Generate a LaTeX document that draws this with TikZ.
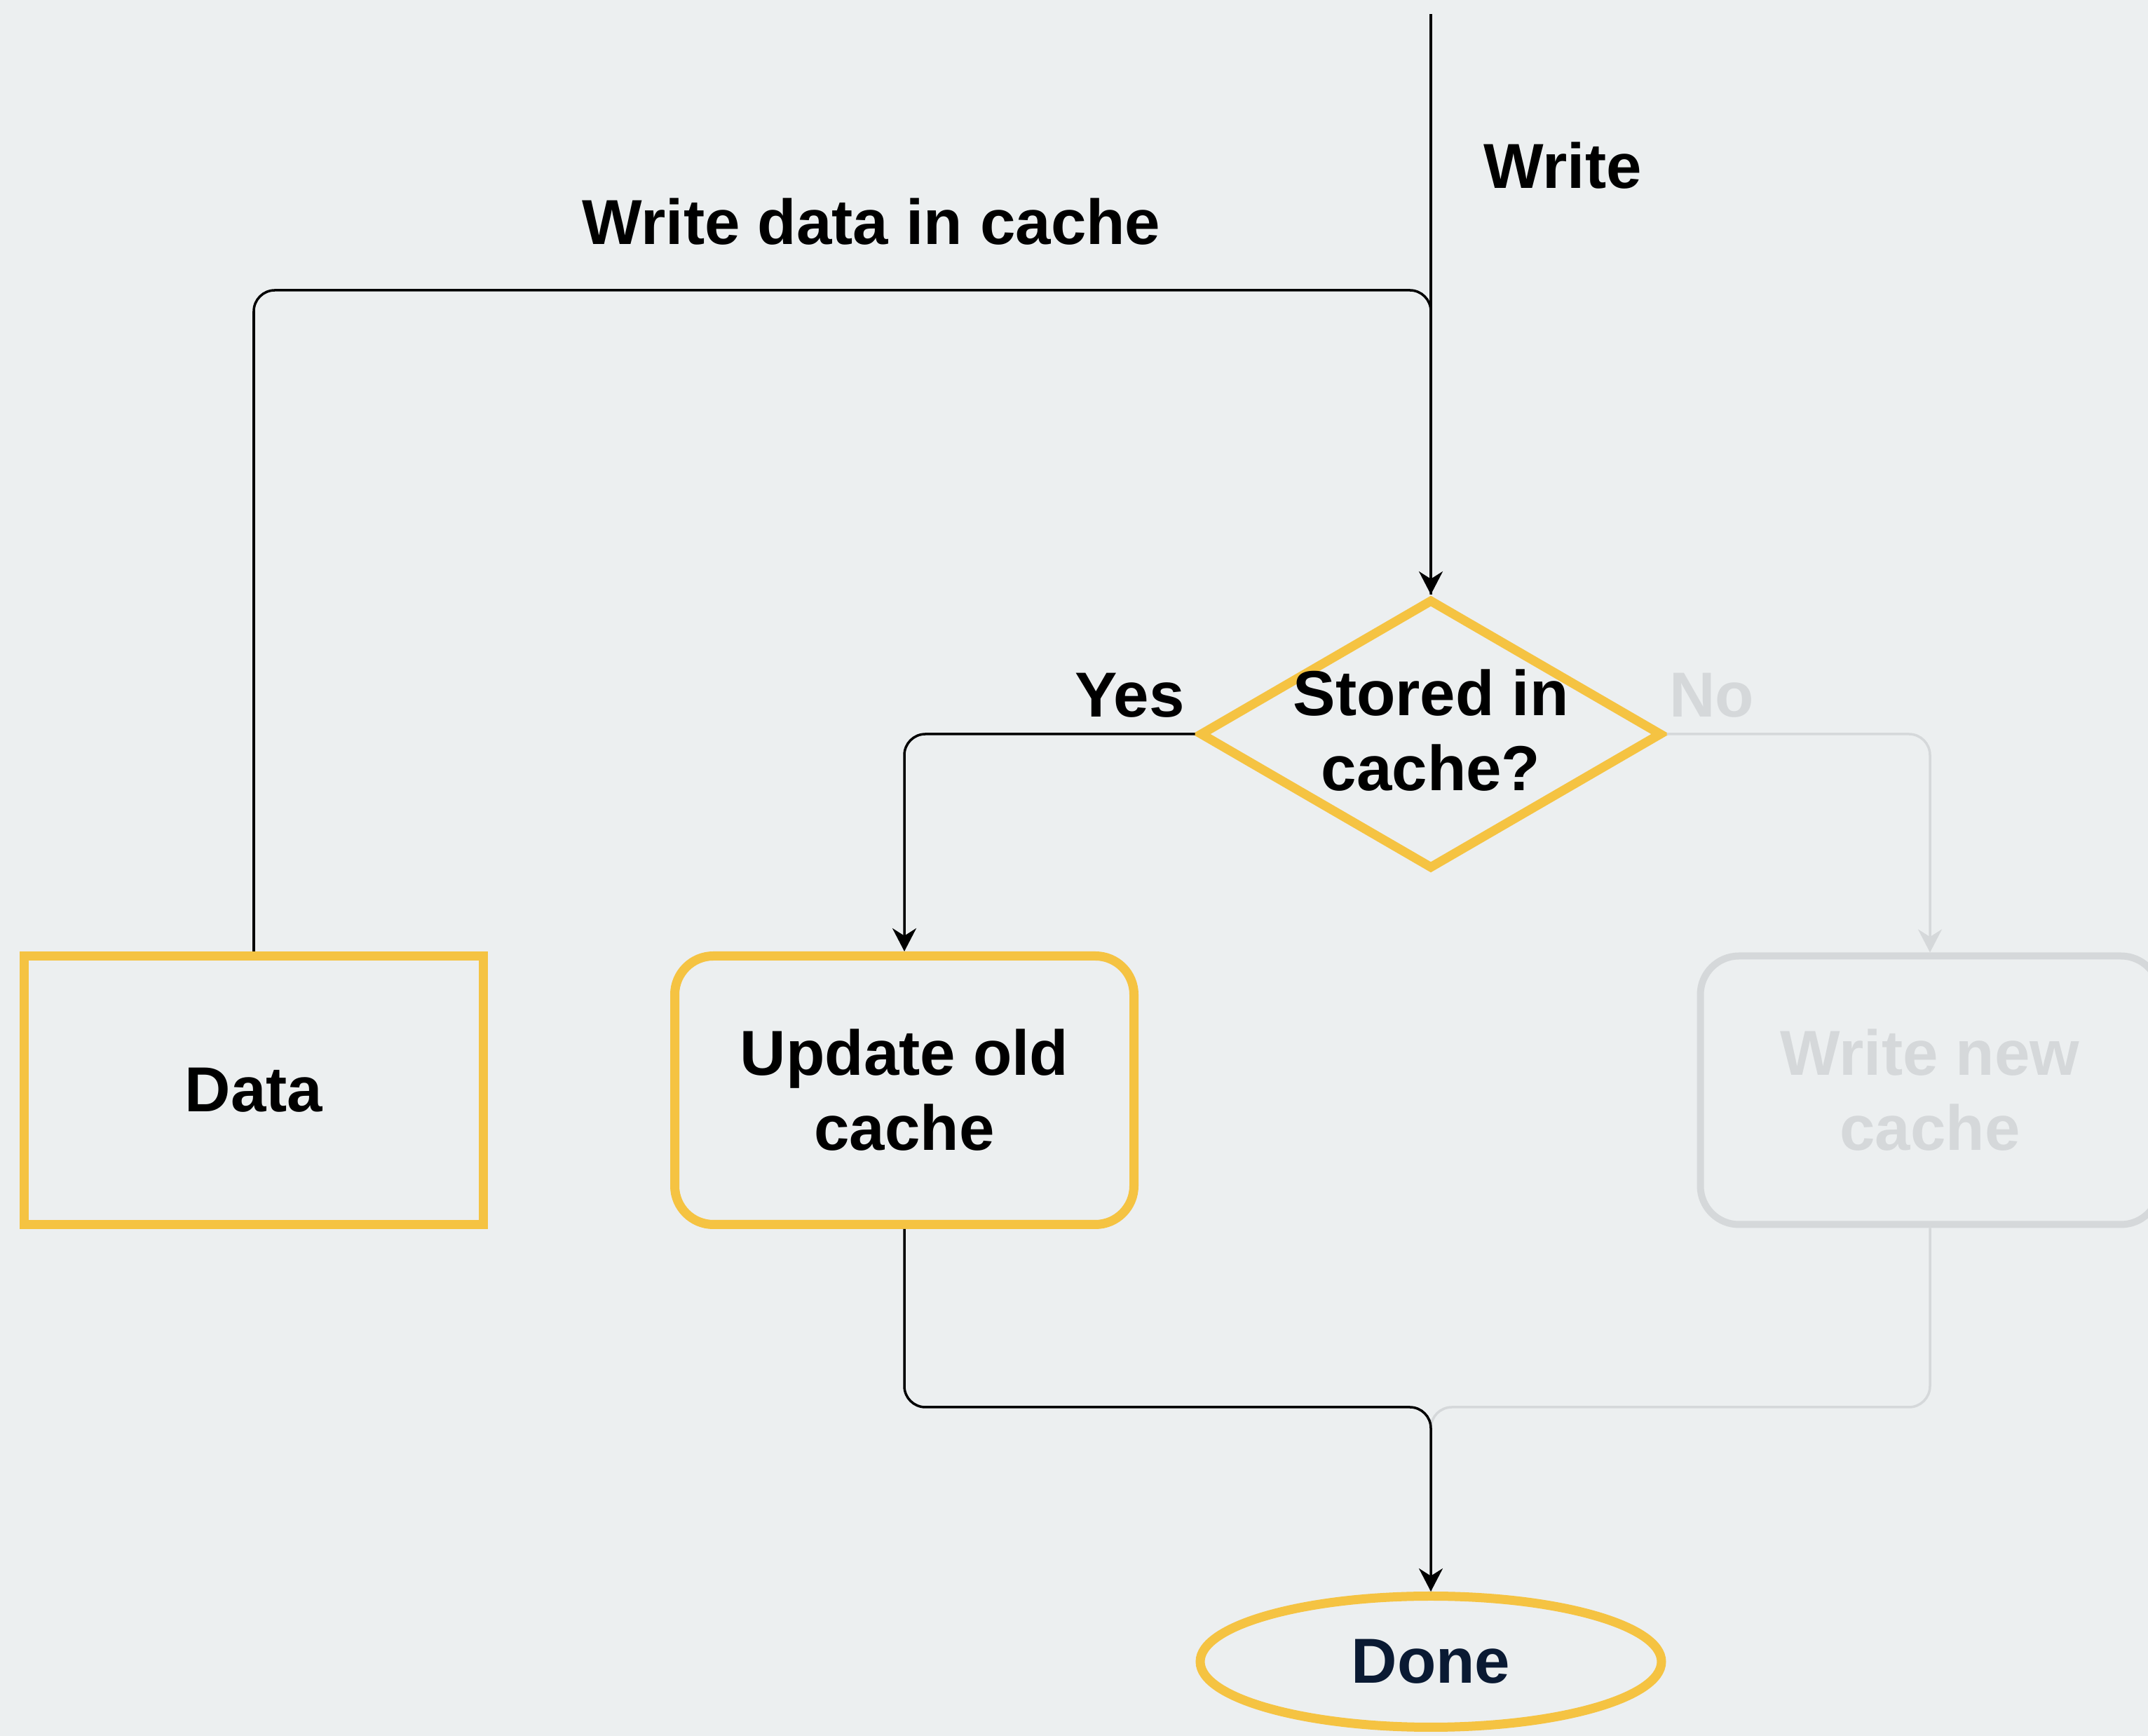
\documentclass[tikz,border=0pt]{standalone}
\usepackage{fontspec}
\setmainfont{Liberation Sans}
\usetikzlibrary{shapes.geometric}
\usetikzlibrary{arrows.meta}
\usetikzlibrary{positioning}
\definecolor{bgc}{RGB}{236,239,240}
\definecolor{ylw}{RGB}{245,195,66}
\definecolor{lgr}{RGB}{213,216,218}
\definecolor{nvy}{RGB}{10,26,51}
\tikzset{fnt/.style={font=\fontsize{25.8}{30.4}\selectfont\bfseries}}
\tikzset{bx/.style={draw=ylw,line width=0.13cm,minimum width=6.55cm,minimum
height=3.83cm,align=center,inner sep=0pt,fnt}}
\tikzset{rbx/.style={bx,rounded corners=0.55cm}}
\tikzset{gbx/.style={rbx,draw=lgr,line width=0.1cm,text=lgr}}
\tikzset{dc/.style={draw=ylw,diamond,line width=0.13cm,minimum width=6.6cm,
minimum height=3.85cm,inner sep=0pt}}
\tikzset{tm/.style={draw=ylw,ellipse,line width=0.13cm,minimum width=6.58cm,
minimum height=1.87cm,inner sep=0pt,fnt,text=nvy}}
\tikzset{lbl/.style={fnt,inner sep=0pt}}
\tikzset{ln/.style={line width=1pt,rounded corners=0.3cm}}
\tikzset{arr/.style={ln,-{Stealth[length=0.33cm,width=0.34cm]}}}

\begin{document}
\begin{tikzpicture}
\path[use as bounding box,fill=bgc] (0,0) rectangle (30.64,24.76);

\node [dc] (st) at (20.41,14.29) {};
\node [lbl,align=center] (stt) at ([yshift=0.05cm]st.center) {Stored in\\cache?};
\node [bx] (dt) at (3.62,9.21) {Data};
\node [rbx] (up) at (12.90,9.21) {Update old\\cache};
\node [gbx] (wn) at (27.53,9.21) {Write new\\cache};
\node [tm] (dn) at (20.41,1.06) {Done};

\coordinate (tp) at (20.41,24.56);
\coordinate (jn) at (20.41,20.62);
\coordinate (mg) at (20.41,4.69);

% labels
\node [lbl,anchor=west] (lw) at (21.16,22.40) {Write};
\node [lbl] (lwd) at (12.43,21.60) {Write data in cache};
\node [lbl,above left=0.23cm and 0.14cm of st.west] (ly) {Yes};
\node [lbl,text=lgr,above right=0.23cm and 0.03cm of st.east] (lno) {No};

% connectors
\draw [arr,draw=lgr] (st.east) -| (wn.north);
\draw [ln,draw=lgr] (wn.south) |- (mg) -- (dn.north);
\draw [arr] (tp) -- (st.north);
\draw [ln] (dt.north) |- (jn) -- (st.north);
\draw [arr] (st.west) -| (up.north);
\draw [arr] (up.south) |- (mg) -- (dn.north);
\end{tikzpicture}
\end{document}
